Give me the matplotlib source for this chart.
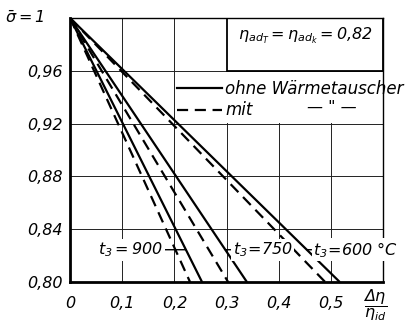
import matplotlib
matplotlib.use("Agg")
import matplotlib.pyplot as plt
from matplotlib.lines import Line2D
from matplotlib.patches import Rectangle
from matplotlib.transforms import blended_transform_factory

plt.rcParams["font.family"] = "DejaVu Sans"
plt.rcParams["font.style"] = "italic"
plt.rcParams["mathtext.default"] = "it"
plt.rcParams["font.size"] = 11.5

# --- data ---
t3 = [900, 750, 600]                 # turbine inlet temperature, °C
sigma_start = 1.0
sigma_end = 0.80
dn_ohne = [0.253, 0.339, 0.517]      # Δη/η_id at σ=0.80, ohne Wärmetauscher
dn_mit = [0.230, 0.303, 0.489]       # Δη/η_id at σ=0.80, mit Wärmetauscher

xticks = [0, 0.1, 0.2, 0.3, 0.4, 0.5]
xtick_labels = ["0", "0,1", "0,2", "0,3", "0,4", "0,5"]
yticks = [0.80, 0.84, 0.88, 0.92, 0.96]
ytick_labels = ["0,80", "0,84", "0,88", "0,92", "0,96"]

# curve labels
label_sigma = 0.8245
label_x = [0.178, 0.312, 0.466]
label_ha = ["right", "left", "left"]
label_text = [r"$t_3 = 900$", r"$t_3\!=\!750$", r"$t_3\!=\!600$ °C"]

fig = plt.figure(figsize=(4.05, 3.22), dpi=100)
ax = fig.add_axes([0.173, 0.124, 0.773, 0.82])

ax.set_xlim(0, 0.6)
ax.set_ylim(0.80, 1.0)
ax.set_xticks(xticks)
ax.set_xticklabels(xtick_labels)
ax.set_yticks(yticks)
ax.set_yticklabels(ytick_labels)
ax.tick_params(axis="both", length=0)
ax.tick_params(axis="x", pad=10)
ax.tick_params(axis="y", pad=5)
ax.set_axisbelow(True)
ax.grid(True, color="#222222", lw=0.7)

for side in ["left", "bottom"]:
    ax.spines[side].set_linewidth(2.0)
for side in ["top", "right"]:
    ax.spines[side].set_linewidth(1.0)

# box for efficiency note and white area under the legend
ax.add_patch(Rectangle((0.3, 0.96), 0.3, 0.04, facecolor="white",
                       edgecolor="black", lw=1.3, zorder=1))
ax.add_patch(Rectangle((0.203, 0.9207), 0.397, 0.0386, facecolor="white",
                       edgecolor="none", zorder=1))

# lines: all start at sigma = 1
for xe in dn_ohne:
    ax.plot([0, xe], [sigma_start, sigma_end], color="black", lw=1.6,
            solid_capstyle="butt", zorder=3)
for xe in dn_mit:
    ax.plot([0, xe], [sigma_start, sigma_end], color="black", lw=1.6,
            ls=(0, (5, 3)), zorder=3)

# t3 labels with leader to the solid lines
for xe, lx, ha, txt in zip(dn_ohne, label_x, label_ha, label_text):
    x_on_line = xe * (sigma_start - label_sigma) / (sigma_start - sigma_end)
    ax.annotate(txt, xy=(x_on_line, label_sigma), xytext=(lx, label_sigma),
                ha=ha, va="center", zorder=4, annotation_clip=False,
                bbox=dict(boxstyle="square,pad=0.1", fc="white", ec="none"),
                arrowprops=dict(arrowstyle="-", lw=1.0, color="black",
                                shrinkA=0, shrinkB=0))

# legend
handles = [Line2D([], [], color="black", lw=1.6),
           Line2D([], [], color="black", lw=1.6, ls=(0, (5, 3)))]
ax.legend(handles, ["ohne Wärmetauscher", "mit"], loc="upper left",
          bbox_to_anchor=(0.342, 0.765), frameon=False, handlelength=2.7,
          handletextpad=0.2, labelspacing=0.2, borderpad=0, borderaxespad=0,
          prop={"size": 12, "style": "italic"})
ax.text(0.502, 0.932, '— " —', ha="center", va="center", zorder=4)

# efficiency note
ax.text(0.452, 0.9867, r"$\eta_{ad_T}=\eta_{ad_k}=0{,}82$",
        ha="center", va="center", zorder=4)

# axis labels
ty = blended_transform_factory(ax.transAxes, ax.transData)
ax.text(-0.08, 1.0, r"$\bar{\sigma}=1$", transform=ty, ha="right", va="center")
tx = blended_transform_factory(ax.transData, ax.transAxes)
ax.text(0.585, -0.085, r"$\dfrac{\Delta\eta}{\eta_{id}}$", transform=tx,
        ha="center", va="center", fontsize=11.5)

fig.savefig("out.png", dpi=100)
